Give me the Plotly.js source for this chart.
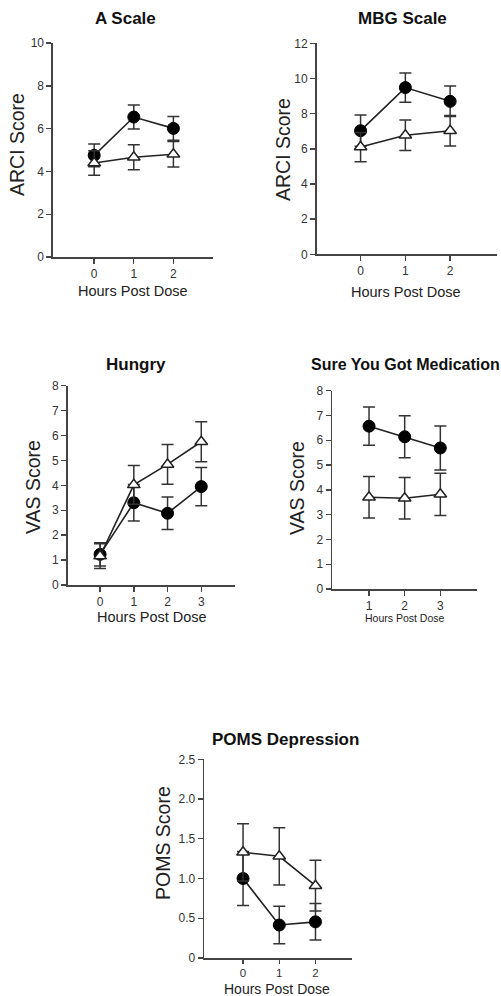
<!DOCTYPE html>
<html>
<head>
<meta charset="utf-8">
<script src="https://cdn.plot.ly/plotly-3.0.1.min.js"></script>
<style>html,body{margin:0;padding:0;background:#fff;}#chart{width:501px;height:996px;}</style>
</head>
<body>
<div id="chart"></div>
<script>
// ---- data ----
const hours3 = [0, 1, 2];
const hours4 = [0, 1, 2, 3];
const hoursSure = [1, 2, 3];

const aActive = [4.75, 6.54, 6.01];
const aActiveSE = [0.53, 0.56, 0.56];
const aPlacebo = [4.39, 4.66, 4.80];
const aPlaceboSE = [0.57, 0.58, 0.60];

const mbgActive = [7.03, 9.48, 8.70];
const mbgActiveSE = [0.89, 0.83, 0.87];
const mbgPlacebo = [6.10, 6.77, 7.03];
const mbgPlaceboSE = [0.83, 0.87, 0.87];

const hungryActive = [1.23, 3.30, 2.88, 3.95];
const hungryActiveSE = [0.47, 0.73, 0.65, 0.77];
const hungryPlacebo = [1.16, 4.02, 4.84, 5.75];
const hungryPlaceboSE = [0.50, 0.78, 0.80, 0.80];

const sureActive = [6.57, 6.14, 5.69];
const sureActiveSE = [0.77, 0.85, 0.89];
const surePlacebo = [3.70, 3.66, 3.82];
const surePlaceboSE = [0.84, 0.84, 0.85];

const pomsActive = [1.00, 0.415, 0.455];
const pomsActiveSE = [0.34, 0.235, 0.23];
const pomsPlacebo = [1.33, 1.28, 0.91];
const pomsPlaceboSE = [0.36, 0.36, 0.32];

const ticksA = [0, 2, 4, 6, 8, 10];
const ticksMBG = [0, 2, 4, 6, 8, 10, 12];
const ticksVAS = [0, 1, 2, 3, 4, 5, 6, 7, 8];
const ticksPOMS = [0, 0.5, 1, 1.5, 2, 2.5];
const ticksPOMSText = ['0', '0.5', '1.0', '1.5', '2.0', '2.5'];

const panelTitles = ['A Scale', 'MBG Scale', 'Hungry', 'Sure You Got Medication', 'POMS Depression'];
const yTitles = ['ARCI Score', 'ARCI Score', 'VAS Score', 'VAS Score', 'POMS Score'];
const xTitle = 'Hours Post Dose';

// ---- styling ----
const W = 501, H = 996;
const ink = '#222';
const axisCol = '#444';
const px = v => v / W;
const py = v => 1 - v / H;
const FAM = 'Liberation Sans, Arial, sans-serif';

function series(x, y, se, xa, ya, filled) {
  return {
    type: 'scatter', mode: 'lines+markers', x: x, y: y,
    xaxis: xa, yaxis: ya, showlegend: false, cliponaxis: false,
    line: {color: ink, width: 1.6},
    marker: filled
      ? {symbol: 'circle', size: 12, color: '#000', line: {color: '#000', width: 1}}
      : {symbol: 'triangle-up', size: 11, color: '#fff', line: {color: ink, width: 1.5}},
    error_y: {type: 'data', array: se, visible: true, color: '#333', thickness: 1.5, width: 6}
  };
}

const data = [
  series(hours3, aActive, aActiveSE, 'x', 'y', true),
  series(hours3, aPlacebo, aPlaceboSE, 'x', 'y', false),
  series(hours3, mbgActive, mbgActiveSE, 'x2', 'y2', true),
  series(hours3, mbgPlacebo, mbgPlaceboSE, 'x2', 'y2', false),
  series(hours4, hungryActive, hungryActiveSE, 'x3', 'y3', true),
  series(hours4, hungryPlacebo, hungryPlaceboSE, 'x3', 'y3', false),
  series(hoursSure, sureActive, sureActiveSE, 'x4', 'y4', true),
  series(hoursSure, surePlacebo, surePlaceboSE, 'x4', 'y4', false),
  series(hours3, pomsActive, pomsActiveSE, 'x5', 'y5', true),
  series(hours3, pomsPlacebo, pomsPlaceboSE, 'x5', 'y5', false)
];

const tickFont = {family: FAM, size: 12, color: '#333'};

function axisBase(dom, range, vals, anchor) {
  return {
    domain: dom, range: range, anchor: anchor, tickmode: 'array', tickvals: vals,
    showline: true, linecolor: axisCol, linewidth: 1.6, ticks: 'outside', ticklen: 5,
    tickcolor: axisCol, tickwidth: 1.4, showgrid: false, zeroline: false,
    tickfont: tickFont, fixedrange: true
  };
}
function yax(dom, range, vals, anchor, text) {
  const a = axisBase(dom, range, vals, anchor);
  if (text) a.ticktext = text;
  return a;
}

const titleFont = {family: FAM, size: 17, color: '#111'};
const yTitleFont = {family: FAM, size: 19.5, color: '#222'};
const xTitleFont = {family: FAM, size: 14.5, color: '#222'};

function ann(text, x, y, font, extra) {
  return Object.assign({text: text, xref: 'paper', yref: 'paper', x: px(x), y: py(y),
    xanchor: 'center', yanchor: 'middle', showarrow: false, font: font}, extra || {});
}

const annotations = [
  ann('<b>' + panelTitles[0] + '</b>', 125, 18, titleFont),
  ann('<b>' + panelTitles[1] + '</b>', 402, 18, titleFont),
  ann('<b>' + panelTitles[2] + '</b>', 136, 364, titleFont),
  ann('<b>' + panelTitles[3] + '</b>', 309, 364, Object.assign({}, titleFont, {size: 16}), {xanchor: 'left'}),
  ann('<b>' + panelTitles[4] + '</b>', 285, 739, titleFont),
  ann(yTitles[0], 17, 145, yTitleFont, {textangle: -90}),
  ann(yTitles[1], 283, 150, yTitleFont, {textangle: -90}),
  ann(yTitles[2], 33, 487, yTitleFont, {textangle: -90}),
  ann(yTitles[3], 297, 488, yTitleFont, {textangle: -90}),
  ann(yTitles[4], 163, 843, yTitleFont, {textangle: -90}),
  ann(xTitle, 133, 291, xTitleFont),
  ann(xTitle, 406, 292, xTitleFont),
  ann(xTitle, 152, 617, xTitleFont),
  ann(xTitle, 405, 618, Object.assign({}, xTitleFont, {size: 10.5})),
  ann(xTitle, 277, 988.5, Object.assign({}, xTitleFont, {size: 14}))
];

const xaxis5 = axisBase([px(204.3), px(351.7)], [-1.07, 3.0], hours3, 'y5');
xaxis5.ticklen = 4;
xaxis5.tickfont = Object.assign({}, tickFont, {size: 11.5});

const layout = {
  width: W, height: H, margin: {l: 0, r: 0, t: 0, b: 0},
  paper_bgcolor: '#fff', plot_bgcolor: '#fff', showlegend: false,
  xaxis: axisBase([px(53), px(213)], [-1.04, 3.0], hours3, 'y'),
  yaxis: yax([py(257), py(43)], [0, 10], ticksA, 'x'),
  xaxis2: axisBase([px(316.7), px(496.7)], [-0.98, 3.04], hours3, 'y2'),
  yaxis2: yax([py(254.3), py(43.3)], [0, 12], ticksMBG, 'x2'),
  xaxis3: axisBase([px(67.7), px(235)], [-0.96, 4.0], hours4, 'y3'),
  yaxis3: yax([py(585), py(385.7)], [0, 8], ticksVAS, 'x3'),
  xaxis4: axisBase([px(332.3), px(476.7)], [-0.03, 4.02], hoursSure, 'y4'),
  yaxis4: yax([py(589), py(390.7)], [0, 8], ticksVAS, 'x4'),
  xaxis5: xaxis5,
  yaxis5: yax([py(958), py(759.3)], [0, 2.5], ticksPOMS, 'x5', ticksPOMSText),
  annotations: annotations
};

Plotly.newPlot('chart', data, layout, {staticPlot: true, displayModeBar: false});
</script>
</body>
</html>
